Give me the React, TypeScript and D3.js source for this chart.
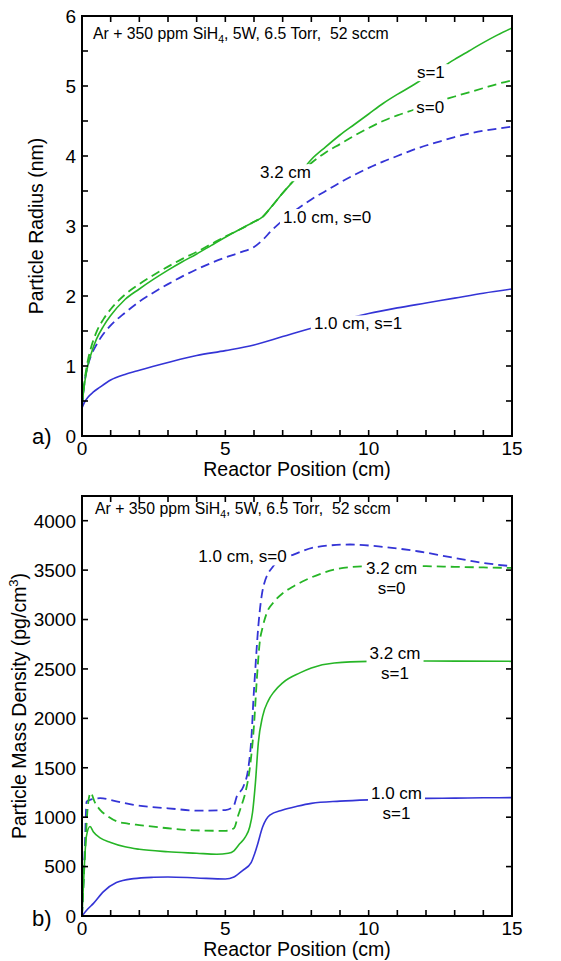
import React, { useEffect, useRef } from "react";
import * as d3 from "d3";

// ---- axis ticks ----
const positionTicks = [0, 5, 10, 15];
const radiusTicks = [0, 1, 2, 3, 4, 5, 6];
const densityTicks = [0, 500, 1000, 1500, 2000, 2500, 3000, 3500, 4000];

// ---- (a) particle radius (nm) vs reactor position (cm) ----
const radius32s1X = [0, 0.1, 0.2, 0.3, 0.5, 0.75, 1, 1.5, 2, 2.5, 3, 3.5, 4, 4.5, 5, 5.5, 6, 6.3, 6.6, 7, 7.5, 8, 8.5, 9, 9.5, 10, 10.5, 11, 11.5, 12, 12.5, 13, 13.5, 14, 14.5, 15];
const radius32s1Y = [0.45, 0.78, 1.0, 1.15, 1.38, 1.57, 1.72, 1.95, 2.1, 2.24, 2.37, 2.49, 2.6, 2.72, 2.84, 2.95, 3.06, 3.13, 3.27, 3.47, 3.7, 3.95, 4.13, 4.3, 4.45, 4.6, 4.75, 4.88, 5.0, 5.13, 5.25, 5.38, 5.5, 5.62, 5.73, 5.83];

const radius32s0X = [0, 0.1, 0.2, 0.3, 0.5, 0.75, 1, 1.5, 2, 2.5, 3, 3.5, 4, 4.5, 5, 5.5, 6, 6.3, 6.6, 7, 7.5, 8, 8.5, 9, 9.5, 10, 10.5, 11, 11.5, 12, 12.5, 13, 13.5, 14, 14.5, 15];
const radius32s0Y = [0.45, 0.82, 1.07, 1.24, 1.48, 1.67, 1.81, 2.02, 2.17, 2.3, 2.42, 2.53, 2.63, 2.74, 2.85, 2.95, 3.06, 3.13, 3.27, 3.47, 3.7, 3.9, 4.05, 4.17, 4.29, 4.4, 4.5, 4.58, 4.65, 4.72, 4.79, 4.85, 4.91, 4.97, 5.03, 5.08];

const radius10s0X = [0, 0.1, 0.2, 0.3, 0.5, 0.75, 1, 1.5, 2, 2.5, 3, 3.5, 4, 4.5, 5, 5.5, 6, 6.3, 6.6, 7, 7.5, 8, 8.5, 9, 9.5, 10, 10.5, 11, 11.5, 12, 12.5, 13, 13.5, 14, 14.5, 15];
const radius10s0Y = [0.42, 0.8, 1.0, 1.13, 1.3, 1.46, 1.58, 1.76, 1.92, 2.05, 2.17, 2.28, 2.38, 2.47, 2.55, 2.62, 2.7, 2.8, 2.93, 3.08, 3.24, 3.38, 3.5, 3.62, 3.73, 3.83, 3.92, 4.0, 4.08, 4.15, 4.21, 4.27, 4.32, 4.36, 4.39, 4.42];

const radius10s1X = [0, 0.1, 0.2, 0.4, 0.6, 1, 1.5, 2, 3, 4, 5, 6, 7, 8, 9, 10, 11, 12, 13, 14, 15];
const radius10s1Y = [0.4, 0.49, 0.55, 0.63, 0.69, 0.8, 0.88, 0.94, 1.05, 1.15, 1.22, 1.3, 1.42, 1.54, 1.65, 1.75, 1.83, 1.9, 1.97, 2.04, 2.1];

// ---- (b) particle mass density (pg/cm^3) vs reactor position (cm) ----
const density10s1X = [0, 0.2, 0.4, 0.75, 1.2, 1.8, 2.5, 3, 4, 5, 5.3, 5.6, 5.9, 6.1, 6.3, 6.55, 7, 7.5, 8, 9, 10, 11, 12, 13, 14, 15];
const density10s1Y = [0, 70, 128, 247, 338, 378, 392, 395, 385, 375, 395, 460, 540, 700, 900, 1020, 1072, 1110, 1140, 1162, 1175, 1183, 1190, 1193, 1196, 1198];

const density32s1X = [0, 0.08, 0.15, 0.28, 0.4, 0.63, 1, 1.5, 2, 3, 4, 4.7, 5.1, 5.3, 5.5, 5.7, 5.85, 5.95, 6.05, 6.15, 6.3, 6.5, 6.7, 7, 7.6, 8, 8.8, 10, 12, 15];
const density32s1Y = [0, 500, 800, 905, 850, 790, 745, 700, 675, 650, 635, 625, 635, 660, 730, 800, 900, 1050, 1350, 1750, 2020, 2180, 2270, 2360, 2460, 2510, 2560, 2577, 2580, 2577];

const density32s0X = [0, 0.1, 0.2, 0.3, 0.45, 0.63, 0.9, 1.2, 1.6, 2, 3, 4, 5, 5.3, 5.45, 5.6, 5.7, 5.86, 6.0, 6.1, 6.2, 6.3, 6.45, 6.7, 7, 7.4, 7.8, 8.3, 8.8, 9.8, 11, 12, 13, 14, 15];
const density32s0Y = [0, 600, 1100, 1245, 1150, 1074, 1010, 960, 935, 920, 888, 866, 862, 888, 1020, 1150, 1250, 1510, 1930, 2400, 2770, 2920, 3070, 3180, 3265, 3340, 3400, 3460, 3505, 3539, 3545, 3540, 3533, 3527, 3522];

const density10s0X = [0, 0.1, 0.16, 0.28, 0.63, 1.2, 1.8, 3, 4.1, 5, 5.28, 5.4, 5.63, 5.81, 5.92, 5.98, 6.03, 6.15, 6.33, 6.67, 7.0, 7.4, 8.2, 9.35, 10.5, 11.7, 12.8, 14, 15];
const density10s0Y = [0, 700, 1158, 1175, 1192, 1160, 1124, 1090, 1066, 1072, 1107, 1210, 1310, 1513, 1850, 2190, 2425, 2930, 3337, 3539, 3610, 3660, 3735, 3759, 3735, 3691, 3634, 3573, 3539];

// ---- inline curve labels (anchored in data coordinates) ----
const radiusLabels = [
  { lines: ["s=1"], x: 12.17, y: 5.2 },
  { lines: ["s=0"], x: 12.15, y: 4.7 },
  { lines: ["3.2 cm"], x: 7.1, y: 3.77 },
  { lines: ["1.0 cm, s=0"], x: 8.55, y: 3.13 },
  { lines: ["1.0 cm, s=1"], x: 9.63, y: 1.61 },
];
const densityLabels = [
  { lines: ["1.0 cm, s=0"], x: 5.6, y: 3640 },
  { lines: ["3.2 cm", "s=0"], x: 10.8, y: 3522 },
  { lines: ["3.2 cm", "s=1"], x: 10.92, y: 2661 },
  { lines: ["1.0 cm", "s=1"], x: 10.97, y: 1243 },
];

const GREEN = "#26b526";
const BLUE = "#3434d6";
const FONT = "'Liberation Sans', Arial, Helvetica, sans-serif";

type Series = { x: number[]; y: number[]; color: string; dashed: boolean };
type Label = { lines: string[]; x: number; y: number };

interface PanelOpts {
  id: string;
  top: number;
  bottom: number;
  yMax: number;
  yTickStep: number;
  yLabelTicks: number[];
  series: Series[];
  labels: Label[];
  yTitle: (t: d3.Selection<SVGTextElement, unknown, null, undefined>) => void;
  yTitleX: number;
  titleX: number;
  titleY: number;
  tag: string;
  tagY: number;
}

const LEFT = 82;
const RIGHT = 512;

function drawPanel(svg: d3.Selection<SVGSVGElement, unknown, null, undefined>, o: PanelOpts) {
  const x = d3.scaleLinear().domain([0, 15]).range([LEFT, RIGHT]);
  const y = d3.scaleLinear().domain([0, o.yMax]).range([o.bottom, o.top]);
  const g = svg.append("g");

  g.append("clipPath")
    .attr("id", `clip-${o.id}`)
    .append("rect")
    .attr("x", LEFT)
    .attr("y", o.top)
    .attr("width", RIGHT - LEFT)
    .attr("height", o.bottom - o.top);

  const line = d3
    .line<[number, number]>()
    .x((d) => x(d[0]))
    .y((d) => y(d[1]))
    .curve(d3.curveMonotoneX);

  const plot = g.append("g").attr("clip-path", `url(#clip-${o.id})`);
  o.series.forEach((s) => {
    const pts = s.x.map((v, i) => [v, s.y[i]] as [number, number]);
    plot
      .append("path")
      .attr("d", line(pts))
      .attr("fill", "none")
      .attr("stroke", s.color)
      .attr("stroke-width", s.dashed ? 1.8 : 1.6)
      .attr("stroke-dasharray", s.dashed ? "9,5" : null);
  });

  // curve labels with a white backing that breaks the lines underneath
  o.labels.forEach((lb) => {
    const lg = plot.append("g");
    const cx = x(lb.x);
    const cy = y(lb.y);
    const texts = lb.lines.map((t, i) =>
      lg
        .append("text")
        .attr("x", cx)
        .attr("y", cy + i * 20)
        .attr("dy", "0.36em")
        .attr("text-anchor", "middle")
        .attr("font-family", FONT)
        .attr("font-size", 17)
        .attr("fill", "#000")
        .text(t)
    );
    let x0 = Infinity, y0 = Infinity, x1 = -Infinity, y1 = -Infinity;
    texts.forEach((t) => {
      const b = (t.node() as SVGTextElement).getBBox();
      x0 = Math.min(x0, b.x);
      y0 = Math.min(y0, b.y);
      x1 = Math.max(x1, b.x + b.width);
      y1 = Math.max(y1, b.y + b.height);
    });
    lg.insert("rect", "text")
      .attr("x", x0 - 3)
      .attr("y", y0 + 1)
      .attr("width", x1 - x0 + 6)
      .attr("height", y1 - y0 - 2)
      .attr("fill", "#fff");
  });

  // frame
  g.append("rect")
    .attr("x", LEFT)
    .attr("y", o.top)
    .attr("width", RIGHT - LEFT)
    .attr("height", o.bottom - o.top)
    .attr("fill", "none")
    .attr("stroke", "#000")
    .attr("stroke-width", 2);

  // inward ticks on all four sides
  const tl = 6;
  const xt = d3.range(0, 15.001, 1);
  xt.forEach((v) => {
    g.append("line").attr("x1", x(v)).attr("x2", x(v)).attr("y1", o.bottom).attr("y2", o.bottom - tl).attr("stroke", "#000").attr("stroke-width", 1.6);
    g.append("line").attr("x1", x(v)).attr("x2", x(v)).attr("y1", o.top).attr("y2", o.top + tl).attr("stroke", "#000").attr("stroke-width", 1.6);
  });
  const yt = d3.range(0, o.yMax + 1e-6, o.yTickStep);
  yt.forEach((v) => {
    g.append("line").attr("x1", LEFT).attr("x2", LEFT + tl).attr("y1", y(v)).attr("y2", y(v)).attr("stroke", "#000").attr("stroke-width", 1.6);
    g.append("line").attr("x1", RIGHT).attr("x2", RIGHT - tl).attr("y1", y(v)).attr("y2", y(v)).attr("stroke", "#000").attr("stroke-width", 1.6);
  });

  // tick labels
  positionTicks.forEach((v) => {
    g.append("text")
      .attr("x", x(v))
      .attr("y", o.bottom + 19)
      .attr("text-anchor", "middle")
      .attr("font-family", FONT)
      .attr("font-size", 19)
      .text(String(v));
  });
  o.yLabelTicks.forEach((v) => {
    g.append("text")
      .attr("x", 76)
      .attr("y", y(v))
      .attr("dy", "0.36em")
      .attr("text-anchor", "end")
      .attr("font-family", FONT)
      .attr("font-size", 19)
      .text(String(v));
  });

  // axis titles
  g.append("text")
    .attr("x", (LEFT + RIGHT) / 2)
    .attr("y", o.bottom + 40)
    .attr("text-anchor", "middle")
    .attr("font-family", FONT)
    .attr("font-size", 19.5)
    .text("Reactor Position (cm)");

  const yt0 = g
    .append("text")
    .attr("transform", `translate(${o.yTitleX},${(o.top + o.bottom) / 2}) rotate(-90)`)
    .attr("text-anchor", "middle")
    .attr("font-family", FONT)
    .attr("font-size", 19.5);
  o.yTitle(yt0);

  // condition header
  const hd = g
    .append("text")
    .attr("x", o.titleX)
    .attr("y", o.titleY)
    .attr("font-family", FONT)
    .attr("font-size", 15.8)
    .style("white-space", "pre");
  hd.append("tspan").text("Ar + 350 ppm SiH");
  hd.append("tspan").attr("dy", 4).attr("font-size", 10.5).text("4");
  hd.append("tspan").attr("dy", -4).text(", 5W, 6.5 Torr,  52 sccm");

  // panel tag
  g.append("text")
    .attr("x", 32)
    .attr("y", o.tagY)
    .attr("font-family", FONT)
    .attr("font-size", 22)
    .text(o.tag);
}

export default function App() {
  const ref = useRef<SVGSVGElement>(null);

  useEffect(() => {
    if (!ref.current) return;
    const svg = d3.select(ref.current);
    svg.selectAll("*").remove();

    drawPanel(svg, {
      id: "radius",
      top: 16,
      bottom: 436,
      yMax: 6,
      yTickStep: 0.5,
      yLabelTicks: radiusTicks,
      series: [
        { x: radius10s1X, y: radius10s1Y, color: BLUE, dashed: false },
        { x: radius10s0X, y: radius10s0Y, color: BLUE, dashed: true },
        { x: radius32s0X, y: radius32s0Y, color: GREEN, dashed: true },
        { x: radius32s1X, y: radius32s1Y, color: GREEN, dashed: false },
      ],
      labels: radiusLabels,
      yTitle: (t) => {
        t.text("Particle Radius (nm)");
      },
      yTitleX: 43,
      titleX: 93,
      titleY: 39,
      tag: "a)",
      tagY: 444,
    });

    drawPanel(svg, {
      id: "density",
      top: 496,
      bottom: 916,
      yMax: 4250,
      yTickStep: 500,
      yLabelTicks: densityTicks,
      series: [
        { x: density10s1X, y: density10s1Y, color: BLUE, dashed: false },
        { x: density10s0X, y: density10s0Y, color: BLUE, dashed: true },
        { x: density32s0X, y: density32s0Y, color: GREEN, dashed: true },
        { x: density32s1X, y: density32s1Y, color: GREEN, dashed: false },
      ],
      labels: densityLabels,
      yTitle: (t) => {
        t.append("tspan").text("Particle Mass Density (pg/cm");
        t.append("tspan").attr("dy", -8).attr("font-size", 13).text("3");
        t.append("tspan").attr("dy", 8).text(")");
      },
      yTitleX: 26,
      titleX: 95,
      titleY: 514,
      tag: "b)",
      tagY: 926,
    });
  }, []);

  return (
    <svg
      ref={ref}
      width={561}
      height={961}
      style={{ position: "absolute", left: 0, top: 0, background: "#fff" }}
    />
  );
}
